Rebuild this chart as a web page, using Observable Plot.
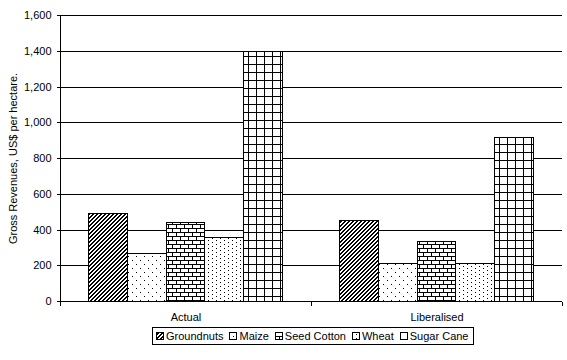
<!DOCTYPE html>
<html><head><meta charset="utf-8">
<script src="https://cdn.jsdelivr.net/npm/d3@7"></script>
<script src="https://cdn.jsdelivr.net/npm/@observablehq/plot@0.6"></script>
<style>
body{margin:0;background:#fff;font-family:"Liberation Sans",Arial,sans-serif;}
#wrap{position:relative;width:567px;height:360px;background:#fff;}
#wrap > svg{position:absolute;left:0;top:0;}
#legend{position:absolute;left:152px;top:327px;height:18px;border:1px solid #000;display:flex;align-items:center;font-size:11px;padding:0 4px 0 3px;box-sizing:border-box;white-space:nowrap;color:#000;}
.item{display:flex;align-items:center;margin-right:6px;}
.item:last-child{margin-right:0;}
.item svg{margin-right:2px;display:block;}
</style></head><body><div id="wrap"></div>
<script>
const scenarios = ["Actual", "Liberalised"];
const crops = ["Groundnuts", "Maize", "Seed Cotton", "Wheat", "Sugar Cane"];
const actualValues = [488, 263, 438, 353, 1395];
const liberalisedValues = [449, 207, 331, 212, 917];
const yTicks = [0, 200, 400, 600, 800, 1000, 1200, 1400, 1600];
const yLabel = "Gross Revenues, US$ per hectare.";
const patternIds = ["p-groundnuts", "p-maize", "p-cotton", "p-wheat", "p-cane"];

const seriesByScenario = [actualValues, liberalisedValues];
const data = [];
scenarios.forEach((s, i) => crops.forEach((c, j) => data.push({scenario: s, crop: c, value: seriesByScenario[i][j]})));

const chart = Plot.plot({
  width: 567, height: 325,
  marginTop: 15, marginBottom: 24, marginLeft: 60, marginRight: 5,
  style: {fontFamily: '"Liberation Sans", Arial, sans-serif', fontSize: "11px", color: "#000", background: "#fff"},
  fx: {domain: scenarios, padding: 0, round: false},
  x: {domain: crops, paddingInner: 0, paddingOuter: 0.75, round: false, axis: null},
  y: {domain: [0, 1600]},
  color: {type: "ordinal", domain: crops, range: patternIds.map(id => `url(#${id})`)},
  marks: [
    Plot.gridY(yTicks, {stroke: "#000", strokeOpacity: 1, strokeWidth: 1, shapeRendering: "crispEdges"}),
    Plot.barY(data, {fx: "scenario", x: "crop", y: "value", fill: "crop", stroke: "#000", strokeWidth: 1, shapeRendering: "crispEdges"}),
    Plot.ruleY([0], {stroke: "#000", shapeRendering: "crispEdges"}),
    Plot.axisY(yTicks, {tickSize: 3, tickPadding: 6, tickFormat: d3.format(","), label: yLabel, labelAnchor: "center", labelArrow: "none", labelOffset: 51, fontSize: 11, shapeRendering: "crispEdges"}),
    Plot.axisFx({anchor: "bottom", tickSize: 0, tickPadding: 12, label: null, fontSize: 11})
  ]
});

const svg = d3.select(chart);
const defs = svg.insert("defs", ":first-child");
function pat(id, w, h, rects) {
  const p = defs.append("pattern").attr("id", id).attr("patternUnits", "userSpaceOnUse")
    .attr("width", w).attr("height", h);
  p.append("rect").attr("width", w).attr("height", h).attr("fill", "#fff");
  rects.forEach(([x, yy, rw, rh]) => p.append("rect").attr("x", x).attr("y", yy).attr("width", rw).attr("height", rh).attr("fill", "#000").attr("shape-rendering", "crispEdges"));
}
// dark upward diagonal (4x4)
pat(patternIds[0], 4, 4, [[2,0,2,1],[1,1,2,1],[0,2,2,1],[3,3,1,1],[0,3,1,1]]);
// sparse dots
pat(patternIds[1], 8, 8, [[0,0,1,1],[4,4,1,1]]);
// horizontal brick
pat(patternIds[2], 8, 8, [[0,0,8,1],[0,4,8,1],[0,1,1,3],[4,5,1,3]]);
// denser dots
pat(patternIds[3], 8, 4, [[0,0,1,1],[4,2,1,1]]);
// large grid
pat(patternIds[4], 8, 8, [[0,0,8,1],[0,0,1,8]]);

// category boundary ticks and vertical axis line, from Plot's own scales
const fx = chart.scale("fx"), y = chart.scale("y");
const y0 = Math.round(y.apply(0)) + 0.5, yTop = Math.round(y.apply(1600)) + 0.5;
const edges = new Set();
scenarios.forEach(s => { const a = fx.apply(s); edges.add(Math.round(a)); edges.add(Math.round(a + fx.bandwidth)); });
const g = svg.append("g").attr("stroke", "#000").attr("shape-rendering", "crispEdges");
edges.forEach(xv => g.append("line").attr("x1", xv + 0.5).attr("x2", xv + 0.5).attr("y1", y0).attr("y2", y0 + 4));
const xLeft = Math.round(fx.apply(scenarios[0])) + 0.5;
g.append("line").attr("x1", xLeft).attr("x2", xLeft).attr("y1", yTop).attr("y2", y0);

const wrap = document.getElementById("wrap");
wrap.appendChild(chart);

const legend = d3.select(wrap).append("div").attr("id", "legend");
crops.forEach((c, i) => {
  const it = legend.append("div").attr("class", "item");
  const s = it.append("svg").attr("width", 8).attr("height", 8);
  s.append("rect").attr("x", 0.5).attr("y", 0.5).attr("width", 7).attr("height", 7)
    .attr("fill", `url(#${patternIds[i]})`).attr("stroke", "#000").attr("shape-rendering", "crispEdges");
  it.append("span").text(c);
});
</script></body></html>
